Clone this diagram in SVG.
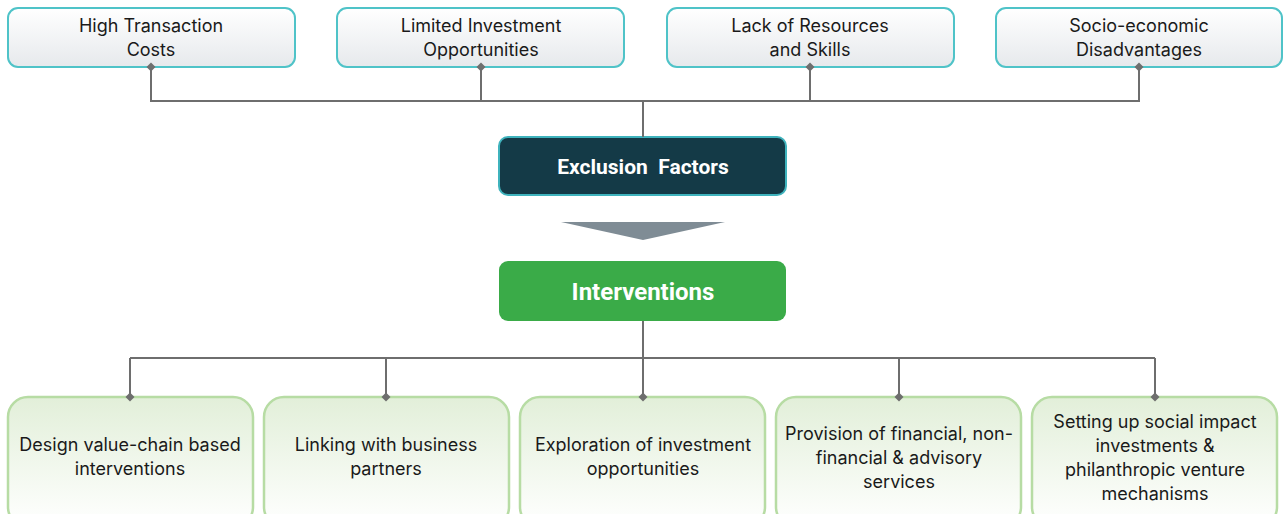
<svg xmlns="http://www.w3.org/2000/svg" width="1283" height="514" viewBox="0 0 1283 514">
<defs>
<linearGradient id="gTop" x1="0" y1="0" x2="0" y2="1"><stop offset="0" stop-color="#ffffff"/><stop offset="1" stop-color="#e6e9ec"/></linearGradient>
<linearGradient id="gBot" x1="0" y1="0" x2="0" y2="1"><stop offset="0" stop-color="#e2efd9"/><stop offset="1" stop-color="#ffffff"/></linearGradient>
<marker id="dia" viewBox="-6 -6 12 12" markerWidth="12" markerHeight="12" refX="0" refY="0" markerUnits="userSpaceOnUse"><path d="M0,-4.5 L4.5,0 L0,4.5 L-4.5,0 Z" fill="#6e6e6e"/></marker>
</defs>
<style>
.top rect{fill:url(#gTop);stroke:#4fc3c8;stroke-width:2}
.bot rect{fill:url(#gBot);stroke:#b7dca4;stroke-width:2.5}
.t{font-family:Inter,Roboto,"Liberation Sans",sans-serif;font-size:18px;fill:#1a1a1a;text-anchor:middle}
.h{font-family:Roboto,"Liberation Sans",sans-serif;font-weight:bold;fill:#ffffff;text-anchor:middle;white-space:pre}
.c{fill:none;stroke:#6e6e6e;stroke-width:2}
</style>
<g id="n1" class="top"><rect x="8" y="8" width="287" height="59" rx="10"/><text class="t" x="151" y="32">High Transaction</text><text class="t" x="151" y="56">Costs</text></g>
<g id="n2" class="top"><rect x="337" y="8" width="287" height="59" rx="10"/><text class="t" x="481" y="32">Limited Investment</text><text class="t" x="481" y="56">Opportunities</text></g>
<g id="n3" class="top"><rect x="667" y="8" width="287" height="59" rx="10"/><text class="t" x="810" y="32">Lack of Resources</text><text class="t" x="810" y="56">and Skills</text></g>
<g id="n4" class="top"><rect x="996" y="8" width="286" height="59" rx="10"/><text class="t" x="1139" y="32">Socio-economic</text><text class="t" x="1139" y="56">Disadvantages</text></g>
<g id="exclusion"><rect x="499" y="137" width="287" height="58" rx="9" fill="#143a47" stroke="#3fb3bd" stroke-width="2"/><text class="h" x="643" y="174" font-size="21" xml:space="preserve">Exclusion  Factors</text></g>
<g id="interventions"><rect x="499" y="261" width="287" height="60" rx="9" fill="#3aab48"/><text class="h" x="643" y="300" font-size="24">Interventions</text></g>
<g id="b1" class="bot"><rect x="8" y="397" width="245" height="130" rx="20"/><text class="t" x="130" y="451">Design value-chain based</text><text class="t" x="130" y="475">interventions</text></g>
<g id="b2" class="bot"><rect x="264" y="397" width="245" height="130" rx="20"/><text class="t" x="386" y="451">Linking with business</text><text class="t" x="386" y="475">partners</text></g>
<g id="b3" class="bot"><rect x="520" y="397" width="245" height="130" rx="20"/><text class="t" x="643" y="451">Exploration of investment</text><text class="t" x="643" y="475">opportunities</text></g>
<g id="b4" class="bot"><rect x="776" y="397" width="245" height="130" rx="20"/><text class="t" x="899" y="440">Provision of financial, non-</text><text class="t" x="899" y="464">financial &amp; advisory</text><text class="t" x="899" y="488">services</text></g>
<g id="b5" class="bot"><rect x="1032" y="397" width="245" height="130" rx="20"/><text class="t" x="1155" y="428">Setting up social impact</text><text class="t" x="1155" y="452">investments &amp;</text><text class="t" x="1155" y="476">philanthropic venture</text><text class="t" x="1155" y="500">mechanisms</text></g>
<g id="connectors">
<path class="c" d="M151,67 V101 H1139 V67 M481,67 V101 M810,67 V101 M643,101 V137"/>
<path class="c" d="M151,101 V67" marker-end="url(#dia)"/>
<path class="c" d="M481,101 V67" marker-end="url(#dia)"/>
<path class="c" d="M810,101 V67" marker-end="url(#dia)"/>
<path class="c" d="M1139,101 V67" marker-end="url(#dia)"/>
<path class="c" d="M643,321 V358 M130,358 H1155"/>
<path class="c" d="M130,358 V397" marker-end="url(#dia)"/>
<path class="c" d="M386,358 V397" marker-end="url(#dia)"/>
<path class="c" d="M643,358 V397" marker-end="url(#dia)"/>
<path class="c" d="M899,358 V397" marker-end="url(#dia)"/>
<path class="c" d="M1155,358 V397" marker-end="url(#dia)"/>
<polygon points="561,222 725,222 643,240" fill="#7f8c95"/>
</g>
</svg>
